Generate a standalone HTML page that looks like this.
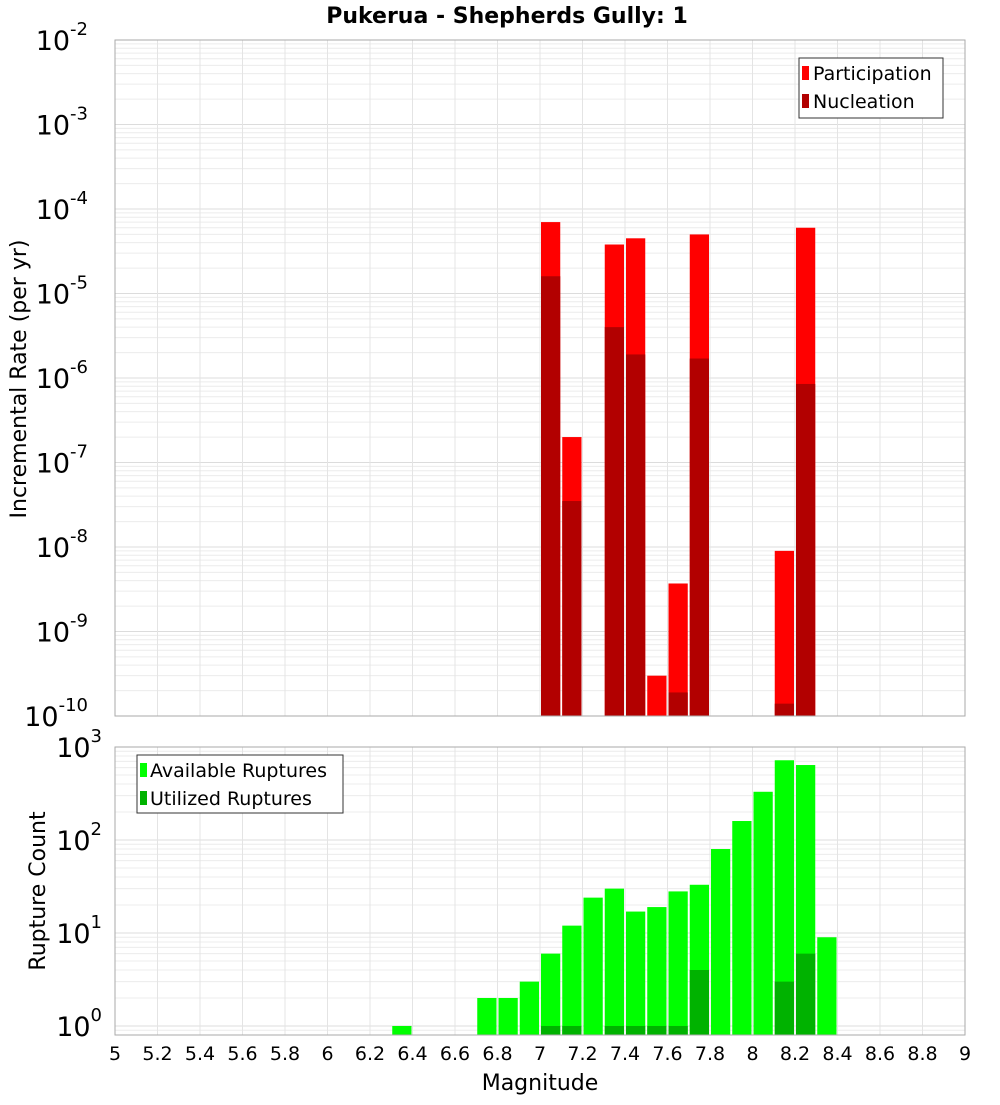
<!DOCTYPE html>
<html><head><meta charset="utf-8"><style>
body{margin:0;background:#fff;}
svg text{font-family:"DejaVu Sans","Liberation Sans",sans-serif;}
</style></head><body>
<svg id="c" width="1000" height="1100" xmlns="http://www.w3.org/2000/svg">
<text x="507" y="23" text-anchor="middle" font-size="22" font-weight="bold">Pukerua - Shepherds Gully: 1</text>
<g id="top"></g><g id="bot"></g>
<text transform="translate(26,379) rotate(-90)" text-anchor="middle" font-size="22">Incremental Rate (per yr)</text>
<text transform="translate(45,891) rotate(-90)" text-anchor="middle" font-size="22">Rupture Count</text>
<text x="540" y="1090" text-anchor="middle" font-size="22">Magnitude</text>
<g>
<rect x="799" y="58" width="144" height="60" fill="#fff" stroke="#333"/>
<rect x="802" y="66" width="7" height="14" fill="#ff0000"/>
<text x="813" y="80" font-size="19">Participation</text>
<rect x="802" y="94" width="7" height="14" fill="#b20000"/>
<text x="813" y="108" font-size="19">Nucleation</text>
</g>
<g>
<rect x="137" y="755" width="206" height="58" fill="#fff" stroke="#333"/>
<rect x="140" y="763" width="7" height="14" fill="#00ff00"/>
<text x="150" y="777" font-size="19">Available Ruptures</text>
<rect x="140" y="791" width="7" height="14" fill="#00b200"/>
<text x="150" y="805" font-size="19">Utilized Ruptures</text>
</g>
</svg>
<script>
const mags=[6.35,6.75,6.85,6.95,7.05,7.15,7.25,7.35,7.45,7.55,7.65,7.75,7.85,7.95,8.05,8.15,8.25,8.35];
const participation=[0,0,0,0,7e-5,2e-7,0,3.8e-5,4.5e-5,3e-10,3.7e-9,5e-5,0,0,0,9e-9,6e-5,0];
const nucleation=[0,0,0,0,1.6e-5,3.5e-8,0,4e-6,1.9e-6,0,1.9e-10,1.7e-6,0,0,0,1.4e-10,8.5e-7,0];
const available=[1,2,2,3,6,12,24,30,17,19,28,33,80,160,330,720,640,9];
const utilized=[0,0,0,0,1,1,0,1,1,1,1,4,0,0,0,3,6,0];
const xTicks=[5,5.2,5.4,5.6,5.8,6,6.2,6.4,6.6,6.8,7,7.2,7.4,7.6,7.8,8,8.2,8.4,8.6,8.8,9];
const topExp=[-2,-3,-4,-5,-6,-7,-8,-9,-10];
const botExp=[3,2,1,0];
const NS="http://www.w3.org/2000/svg";
const L=115,R=965;
const xs=m=>L+(m-5)/4*(R-L);
function mk(p,t,a){const e=document.createElementNS(NS,t);for(const k in a)e.setAttribute(k,a[k]);p.appendChild(e);return e;}
function panel(g,T,B,lo,hi,series,colors,names,exps,pname){
  const ys=v=>B-(Math.log10(v)-lo)/(hi-lo)*(B-T);
  for(let d=Math.floor(lo);d<hi;d++)for(let k=1;k<10;k++){const v=k*Math.pow(10,d);const lv=Math.log10(v);if(lv<lo||lv>hi)continue;
    const l=mk(g,'line',{x1:L,x2:R,y1:ys(v),y2:ys(v),stroke:k==1?'#dcdcdc':'#ececec','stroke-width':1});
    }
  xTicks.forEach(t=>{const l=mk(g,'line',{x1:xs(t),x2:xs(t),y1:T,y2:B,stroke:'#e4e4e4'});
    });
  series.forEach((s,si)=>{s.forEach((v,i)=>{if(v<=0)return;const y=Math.max(ys(v),T);
    const x0=xs(mags[i]-0.05)+1,x1=xs(mags[i]+0.05)-1;
    const r=mk(g,'rect',{x:x0,y:y,width:x1-x0,height:B-y,fill:colors[si]});
    });});
  const f=mk(g,'rect',{x:L,y:T,width:R-L,height:B-T,fill:'none',stroke:'#aaa'});
  
  exps.forEach(e=>{const y=ys(Math.pow(10,e));const t=mk(g,'text',{x:e<0?88:102,y:y+10,'text-anchor':'end','font-size':27});
    
    t.textContent='10';const s=mk(t,'tspan',{dy:-15,'font-size':18});s.textContent=String(e);});
}
panel(document.getElementById('top'),40,716,-10,-2,[participation,nucleation],['#ff0000','#b20000'],['participation','nucleation'],topExp,'top');
panel(document.getElementById('bot'),747,1035,Math.log10(0.8),3,[available,utilized],['#00ff00','#00b200'],['available','utilized'],botExp,'bottom');
const bg=document.getElementById('bot');
xTicks.forEach(t=>{const e=mk(bg,'text',{x:xs(t),y:1060,'text-anchor':'middle','font-size':19});
  e.textContent=String(t);});
</script>
</body></html>
